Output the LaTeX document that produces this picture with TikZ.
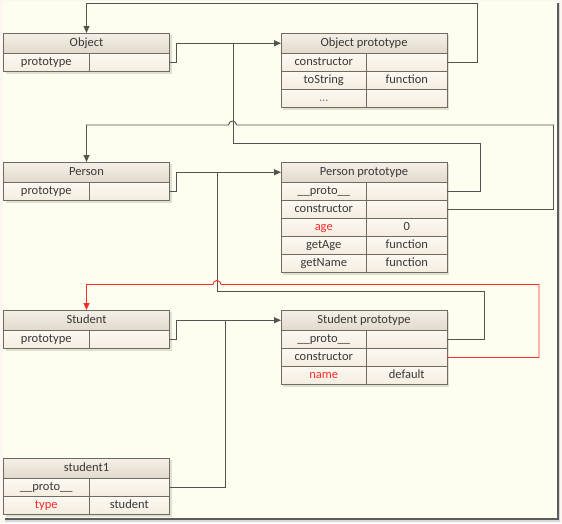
\documentclass[tikz,border=0pt]{standalone}
\usepackage{fontspec}
\setmainfont{Carlito}
\usetikzlibrary{arrows.meta}

\definecolor{pagebg}{HTML}{FBF6F0}
\definecolor{canvas}{HTML}{FEFEF0}
\definecolor{frameshade}{HTML}{5C5C5C}
\definecolor{boxline}{HTML}{6F6A62}
\definecolor{hdrtop}{HTML}{F4F0E8}
\definecolor{hdrbot}{HTML}{E2D9CA}
\definecolor{celltop}{HTML}{FCF9F2}
\definecolor{cellbot}{HTML}{F5ECDF}
\definecolor{linkc}{HTML}{55534E}
\definecolor{txt}{HTML}{383838}
\definecolor{hotred}{HTML}{FF2A2A}

\begin{document}
\begin{tikzpicture}[x=1pt, y=-1pt,
    font=\fontsize{12.5}{14}\selectfont,
    box/.style={draw=boxline, line width=.8pt, inner sep=0pt, outer sep=0pt,
      anchor=north west, text=txt, text height=9pt, text depth=2.5pt},
    hdr/.style={box, minimum width=166pt, minimum height=20.5pt,
      top color=hdrtop, bottom color=hdrbot},
    fld/.style={box, minimum width=85.5pt, minimum height=18pt,
      top color=celltop, bottom color=cellbot},
    val/.style={fld, minimum width=80.5pt},
    hot/.style={text=hotred},
    link/.style={draw=linkc, line width=.9pt},
    tip/.style={-{Triangle[length=7pt,width=6pt]}}]
    \useasboundingbox (0,0) rectangle (562,523);
    % page and its frame
    \fill[pagebg] (0,0) rectangle (562,523);
    \fill[black!15] (5,3) rectangle (560,521.5);
    \fill[frameshade] (4.5,2.5) rectangle (559,520.3);
    \fill[canvas] (3,1) rectangle (556.7,517.8);
    % box shadows
    \foreach \bx/\by/\bh in {3.5/33/38.5, 281/33/74.5, 3.5/162/38.5, 281/162/110.5,
        3.5/310/38.5, 281/310/74.5, 3.5/458/56.5}
      \fill[black, opacity=.12] (\bx+2,\by+2) rectangle ++(166,\bh);

    % Object
    \node[hdr] (obj) at (3.5,33) {Object};
    \node[fld] (obj-k) at (3.5,53.5) {prototype};
    \node[val] (obj-v) at (89,53.5) {};
    % Object prototype
    \node[hdr] (op) at (281,33) {Object prototype};
    \node[fld] (op-ck) at (281,53.5) {constructor};
    \node[val] (op-cv) at (366.5,53.5) {};
    \node[fld] (op-tk) at (281,71.5) {toString};
    \node[val] (op-tv) at (366.5,71.5) {function};
    \node[fld] (op-dk) at (281,89.5) {\textcolor{gray}{...}};
    \node[val] (op-dv) at (366.5,89.5) {};

    % Person
    \node[hdr] (per) at (3.5,162) {Person};
    \node[fld] (per-k) at (3.5,182.5) {prototype};
    \node[val] (per-v) at (89,182.5) {};
    % Person prototype
    \node[hdr] (pp) at (281,162) {Person prototype};
    \node[fld] (pp-pk) at (281,182.5) {\_\_proto\_\_};
    \node[val] (pp-pv) at (366.5,182.5) {};
    \node[fld] (pp-ck) at (281,200.5) {constructor};
    \node[val] (pp-cv) at (366.5,200.5) {};
    \node[fld,hot] (pp-ak) at (281,218.5) {age};
    \node[val] (pp-av) at (366.5,218.5) {0};
    \node[fld] (pp-gk) at (281,236.5) {getAge};
    \node[val] (pp-gv) at (366.5,236.5) {function};
    \node[fld] (pp-nk) at (281,254.5) {getName};
    \node[val] (pp-nv) at (366.5,254.5) {function};

    % Student
    \node[hdr] (stu) at (3.5,310) {Student};
    \node[fld] (stu-k) at (3.5,330.5) {prototype};
    \node[val] (stu-v) at (89,330.5) {};
    % Student prototype
    \node[hdr] (sp) at (281,310) {Student prototype};
    \node[fld] (sp-pk) at (281,330.5) {\_\_proto\_\_};
    \node[val] (sp-pv) at (366.5,330.5) {};
    \node[fld] (sp-ck) at (281,348.5) {constructor};
    \node[val] (sp-cv) at (366.5,348.5) {};
    \node[fld,hot] (sp-nk) at (281,366.5) {name};
    \node[val] (sp-nv) at (366.5,366.5) {default};

    % student1
    \node[hdr] (s1) at (3.5,458) {student1};
    \node[fld] (s1-pk) at (3.5,478.5) {\_\_proto\_\_};
    \node[val] (s1-pv) at (89,478.5) {};
    \node[fld,hot] (s1-tk) at (3.5,496.5) {type};
    \node[val] (s1-tv) at (89,496.5) {student};

    % junctions
    \coordinate (j1) at (233,43.25);
    \coordinate (j2) at (217,172.25);
    \coordinate (j3) at (225.3,320.25);

    % links
    \draw[link,tip] (obj-v.east) -- ++(7,0) |- (op.west);
    \draw[link,tip] (op-cv.east) -- ++(30,0) -- ++(0,-59) -| (obj.north);
    \draw[link] (pp-pv.east) -- ++(33,0) -- ++(0,-48.5) -| (j1);
    \draw[link,tip] (pp-cv.east) -- ++(106.5,0) -- ++(0,-84.5) -- ++(-317,0)
        arc[start angle=0, end angle=180, radius=4pt] -| (per.north);
    \draw[link,tip] (per-v.east) -- ++(7,0) |- (pp.west);
    \draw[link] (sp-pv.east) -- ++(37,0) -- ++(0,-48) -| (j2);
    \draw[link,draw=hotred,tip] (sp-cv.east) -- ++(92,0) -- ++(0,-73) -- ++(-318,0)
        arc[start angle=0, end angle=180, radius=4pt] -| (stu.north);
    \draw[link,tip] (stu-v.east) -- ++(7,0) |- (sp.west);
    \draw[link] (s1-pv.east) -| (j3);
\end{tikzpicture}
\end{document}
